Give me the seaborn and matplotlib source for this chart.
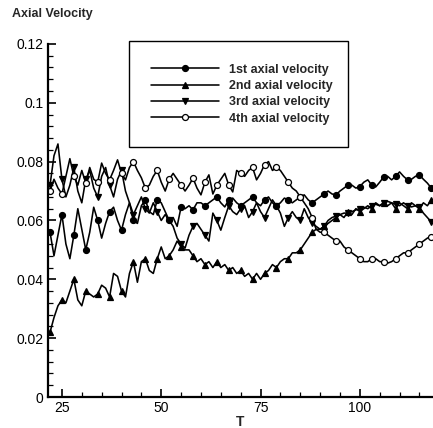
import numpy as np
import pandas as pd
import matplotlib
matplotlib.use("Agg")
import matplotlib.pyplot as plt
from matplotlib.ticker import MultipleLocator, FixedLocator
import seaborn as sns

# time axis, one sample per unit of T
t_values = list(range(22, 119))

vel_1st = [
    0.056, 0.048, 0.055, 0.062, 0.052, 0.047, 0.055, 0.064, 0.057, 0.050,
    0.056, 0.0645, 0.060, 0.054, 0.059, 0.063, 0.0645, 0.060, 0.0567, 0.062,
    0.066, 0.060, 0.059, 0.065, 0.067, 0.063, 0.062, 0.067, 0.066, 0.063,
    0.060, 0.061, 0.058, 0.0646, 0.064, 0.065, 0.0636, 0.066, 0.066, 0.065,
    0.066, 0.067, 0.068, 0.066, 0.0646, 0.067, 0.0676, 0.066, 0.065, 0.066,
    0.067, 0.068, 0.066, 0.065, 0.067, 0.068, 0.066, 0.065, 0.066, 0.0676,
    0.067, 0.066, 0.067, 0.068, 0.0687, 0.067, 0.066, 0.067, 0.068, 0.069,
    0.070, 0.069, 0.0687, 0.070, 0.071, 0.072, 0.072, 0.071, 0.0715, 0.073,
    0.0738, 0.072, 0.0714, 0.073, 0.0748, 0.075, 0.0738, 0.075, 0.0765, 0.075,
    0.0738, 0.074, 0.075, 0.0755, 0.074, 0.0727, 0.071,
]

vel_2nd = [
    0.022, 0.027, 0.031, 0.033, 0.032, 0.036, 0.040, 0.033, 0.031, 0.036,
    0.035, 0.034, 0.035, 0.038, 0.037, 0.034, 0.042, 0.041, 0.036, 0.034,
    0.042, 0.046, 0.039, 0.046, 0.047, 0.043, 0.042, 0.047, 0.051, 0.047,
    0.048, 0.050, 0.053, 0.051, 0.050, 0.050, 0.048, 0.046, 0.047, 0.045,
    0.046, 0.044, 0.046, 0.044, 0.045, 0.043, 0.044, 0.042, 0.043, 0.041,
    0.042, 0.040, 0.042, 0.040, 0.042, 0.043, 0.045, 0.044, 0.046, 0.047,
    0.047, 0.049, 0.049, 0.050, 0.052, 0.054, 0.056, 0.057, 0.057, 0.058,
    0.059, 0.060, 0.061, 0.062, 0.061, 0.063, 0.062, 0.064, 0.063, 0.064,
    0.065, 0.064, 0.066, 0.065, 0.066, 0.065, 0.066, 0.064, 0.066, 0.065,
    0.064, 0.066, 0.065, 0.064, 0.066, 0.065, 0.067,
]

vel_3rd = [
    0.072, 0.082, 0.086, 0.074, 0.068, 0.072, 0.078, 0.070, 0.066, 0.074,
    0.077, 0.071, 0.068, 0.075, 0.078, 0.072, 0.068, 0.074, 0.077, 0.070,
    0.066, 0.062, 0.065, 0.068, 0.064, 0.0625, 0.066, 0.063, 0.060, 0.062,
    0.060, 0.058, 0.054, 0.052, 0.0506, 0.055, 0.058, 0.059, 0.057, 0.055,
    0.053, 0.0625, 0.060, 0.0567, 0.061, 0.065, 0.063, 0.062, 0.064, 0.065,
    0.061, 0.063, 0.066, 0.063, 0.061, 0.064, 0.067, 0.065, 0.0625, 0.058,
    0.061, 0.063, 0.061, 0.060, 0.064, 0.061, 0.059, 0.058, 0.057, 0.058,
    0.060, 0.061, 0.0615, 0.062, 0.0625, 0.0625, 0.063, 0.0636, 0.064, 0.0645,
    0.064, 0.065, 0.0655, 0.065, 0.066, 0.0665, 0.066, 0.0655, 0.065, 0.066,
    0.065, 0.0646, 0.065, 0.0646, 0.0625, 0.061, 0.0595,
]

vel_4th = [
    0.070, 0.074, 0.071, 0.069, 0.075, 0.081, 0.075, 0.072, 0.077, 0.0727,
    0.078, 0.074, 0.073, 0.0795, 0.076, 0.0738, 0.077, 0.0806, 0.076, 0.0738,
    0.078, 0.080, 0.077, 0.0745, 0.071, 0.072, 0.075, 0.077, 0.073, 0.070,
    0.074, 0.076, 0.074, 0.072, 0.070, 0.072, 0.0744, 0.071, 0.0687, 0.073,
    0.0755, 0.069, 0.072, 0.074, 0.076, 0.072, 0.0697, 0.077, 0.076, 0.075,
    0.077, 0.078, 0.0738, 0.076, 0.079, 0.080, 0.077, 0.078, 0.077, 0.075,
    0.073, 0.071, 0.070, 0.068, 0.066, 0.064, 0.061, 0.057, 0.056, 0.056,
    0.055, 0.054, 0.053, 0.053, 0.051, 0.050, 0.049, 0.048, 0.047, 0.046,
    0.046, 0.047, 0.047, 0.046, 0.046, 0.0455, 0.046, 0.047, 0.048, 0.049,
    0.049, 0.050, 0.051, 0.052, 0.053, 0.054, 0.0545,
]

labels = ["1st axial velocity", "2nd axial velocity",
          "3rd axial velocity", "4th axial velocity"]
y_ticks = [0, 0.02, 0.04, 0.06, 0.08, 0.10, 0.12]
y_tick_labels = ["0", "0.02", "0.04", "0.06", "0.08", "0.1", "0.12"]
x_ticks = [25, 50, 75, 100]

sns.set_theme(style="ticks")
plt.rcParams["font.family"] = ["Liberation Sans", "DejaVu Sans"]

df = pd.DataFrame({
    "T": t_values,
    labels[0]: vel_1st,
    labels[1]: vel_2nd,
    labels[2]: vel_3rd,
    labels[3]: vel_4th,
})

fig = plt.figure(figsize=(4.33, 4.28), dpi=100)
ax = fig.add_axes([0.110, 0.0724, 0.888, 0.825])

styles = [
    dict(marker="o", mfc="black"),
    dict(marker="^", mfc="black"),
    dict(marker="v", mfc="black"),
    dict(marker="o", mfc="white"),
]
for lab, st in zip(labels, styles):
    sns.lineplot(data=df, x="T", y=lab, ax=ax, color="black", lw=1.15,
                 marker=st["marker"], markerfacecolor=st["mfc"],
                 markeredgecolor="black", markersize=4.3, markeredgewidth=0.9,
                 markevery=3, label=lab)

ax.set_xlim(21.4, 118.2)
ax.set_ylim(0, 0.12)
ax.yaxis.set_major_locator(FixedLocator(y_ticks))
ax.set_yticklabels(y_tick_labels)
ax.yaxis.set_minor_locator(MultipleLocator(0.004))
ax.xaxis.set_major_locator(FixedLocator(x_ticks))
ax.xaxis.set_minor_locator(MultipleLocator(5))

for side in ["top", "right"]:
    ax.spines[side].set_visible(False)
for side in ["left", "bottom"]:
    ax.spines[side].set_linewidth(1.6)
    ax.spines[side].set_color("black")

ax.tick_params(which="major", direction="in", length=6, width=1.2,
               labelsize=10, colors="black", pad=3)
ax.tick_params(which="minor", direction="in", length=3.5, width=0.9,
               colors="black")

ax.set_ylabel("")
ax.set_xlabel("T", fontsize=10, fontweight="bold", labelpad=0)
fig.text(0.028, 0.967, "Axial Velocity", fontsize=9, fontweight="bold",
         ha="left", va="center")

leg = ax.legend(loc="upper left", bbox_to_anchor=(0.211, 0.711, 0.570, 0.297),
                mode="expand", borderaxespad=0, frameon=True, fancybox=False,
                edgecolor="black", framealpha=1, borderpad=1.8,
                handlelength=5.4, handletextpad=0.8, labelspacing=0.35,
                prop={"weight": "bold", "size": 9})
leg.get_frame().set_linewidth(1.0)

fig.savefig("out.png", dpi=100)
